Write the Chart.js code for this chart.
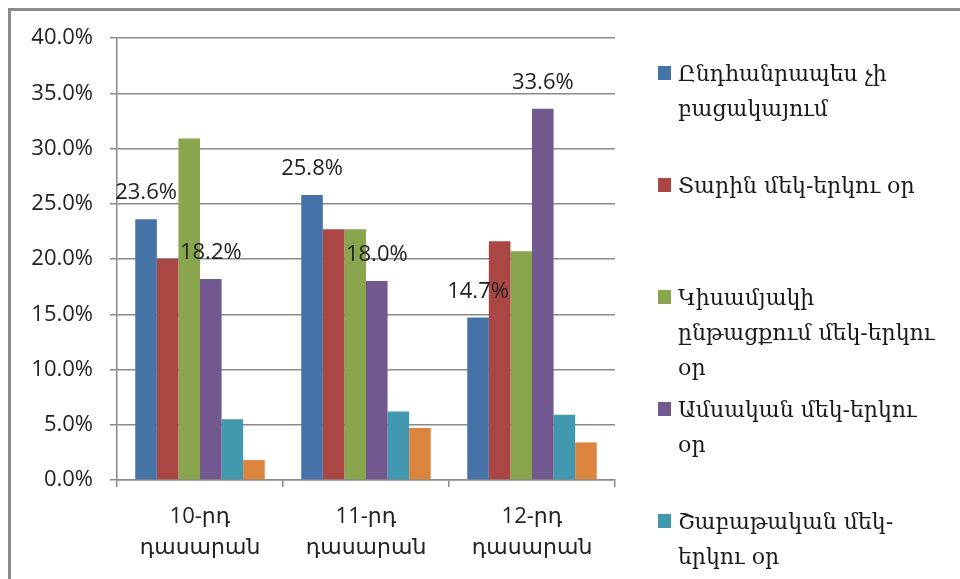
<!DOCTYPE html>
<html>
<head>
<meta charset="utf-8">
<script src="https://cdn.jsdelivr.net/npm/chart.js@4.4.1/dist/chart.umd.min.js"></script>
<style>
  html, body { margin: 0; padding: 0; background: #fff; overflow: hidden; }
  body { width: 960px; height: 579px; position: relative; }
  #frame { position: absolute; left: 8px; top: 8px; width: 1000px; height: 1000px; border: 3px solid #8a8a8a; }
  #box { position: absolute; left: 0; top: 0; width: 625px; height: 579px; }
  #legend { position: absolute; left: 0; top: 0; width: 960px; height: 579px; pointer-events: none; }
  .item { position: absolute; left: 658px; font-family: "DejaVu Serif", serif; font-size: 22px; line-height: 35px; color: #1a1a1a; }
  .item .sw { position: absolute; left: 0; top: 10px; width: 13px; height: 14px; }
  .item .txt { margin-left: 20px; white-space: nowrap; }
</style>
</head>
<body>
<div id="frame"></div>
<div id="box"><canvas id="chart"></canvas></div>
<div id="legend"></div>
<script>
// classes
const categories = [["10-րդ", "դասարան"], ["11-րդ", "դասարան"], ["12-րդ", "դասարան"]];

// series names, split the way the legend wraps them
const seriesNames = [
  ["Ընդհանրապես չի", "բացակայում"],
  ["Տարին մեկ-երկու օր"],
  ["Կիսամյակի", "ընթացքում մեկ-երկու", "օր"],
  ["Ամսական մեկ-երկու", "օր"],
  ["Շաբաթական մեկ-", "երկու օր"],
  ["Ամեն օր"]
];
const colors = ['#4572A7', '#AA4643', '#89A54E', '#71588F', '#4198AF', '#DB843D'];

// values in %, one array per series (10, 11, 12 grade)
const never    = [23.6, 25.8, 14.7];
const yearly   = [20.0, 22.7, 21.6];
const semester = [30.9, 22.7, 20.7];
const monthly  = [18.2, 18.0, 33.6];
const weekly   = [5.5, 6.2, 5.9];
const daily    = [1.8, 4.7, 3.4];
const seriesValues = [never, yearly, semester, monthly, weekly, daily];

// only these series carry value labels in the picture
const labelledSeries = [0, 3];

const yTicks = [0, 5, 10, 15, 20, 25, 30, 35, 40];

const numFont = "'Open Sans', 'DejaVu Sans', sans-serif";
const txtColor = '#222';

// value labels drawn above selected bars
const valueLabels = {
  id: 'valueLabels',
  afterDatasetsDraw(chart) {
    const ctx = chart.ctx;
    ctx.save();
    ctx.font = '22px ' + numFont;
    ctx.fillStyle = txtColor;
    ctx.textAlign = 'center';
    ctx.textBaseline = 'middle';
    labelledSeries.forEach(di => {
      const meta = chart.getDatasetMeta(di);
      meta.data.forEach((bar, i) => {
        const v = chart.data.datasets[di].data[i];
        ctx.fillText(v.toFixed(1) + '%', bar.x, bar.y - 26);
      });
    });
    ctx.restore();
  }
};

const ctx = document.getElementById('chart').getContext('2d');
new Chart(ctx, {
  type: 'bar',
  data: {
    labels: categories,
    datasets: seriesValues.map((vals, i) => ({
      label: seriesNames[i].join(' '),
      data: vals,
      backgroundColor: colors[i],
      borderWidth: 0
    }))
  },
  options: {
    responsive: true,
    maintainAspectRatio: false,
    animation: false,
    layout: { padding: { left: 0, top: 38, right: 10, bottom: 0 } },
    datasets: { bar: { categoryPercentage: 0.78, barPercentage: 1.0 } },
    plugins: {
      legend: { display: false },
      tooltip: { enabled: false }
    },
    scales: {
      x: {
        afterFit: (s) => { s.height = 99; },
        grid: {
          offset: true,
          drawOnChartArea: false,
          drawTicks: true,
          tickLength: 7,
          color: '#8a8a8a',
          lineWidth: 1.5
        },
        border: { color: '#8a8a8a', width: 1.5 },
        ticks: {
          color: txtColor,
          padding: 14,
          maxRotation: 0,
          font: { family: numFont, size: 22, lineHeight: 1.42 }
        }
      },
      y: {
        min: 0,
        max: 40,
        afterFit: (s) => { s.width = 117; },
        afterBuildTicks: (s) => { s.ticks = yTicks.map(v => ({ value: v })); },
        grid: {
          color: '#8a8a8a',
          lineWidth: 1.5,
          tickLength: 7
        },
        border: { color: '#8a8a8a', width: 1.5 },
        ticks: {
          color: txtColor,
          padding: 17,
          font: { family: numFont, size: 22 },
          callback: (v) => Number(v).toFixed(1) + '%'
        }
      }
    }
  },
  plugins: [valueLabels]
});

// legend on the right, as in the picture
const legend = document.getElementById('legend');
seriesNames.forEach((lines, i) => {
  const item = document.createElement('div');
  item.className = 'item';
  item.style.top = (56 + 112 * i) + 'px';
  const sw = document.createElement('div');
  sw.className = 'sw';
  sw.style.background = colors[i];
  const txt = document.createElement('div');
  txt.className = 'txt';
  txt.innerHTML = lines.join('<br>');
  item.appendChild(sw);
  item.appendChild(txt);
  legend.appendChild(item);
});
</script>
</body>
</html>
